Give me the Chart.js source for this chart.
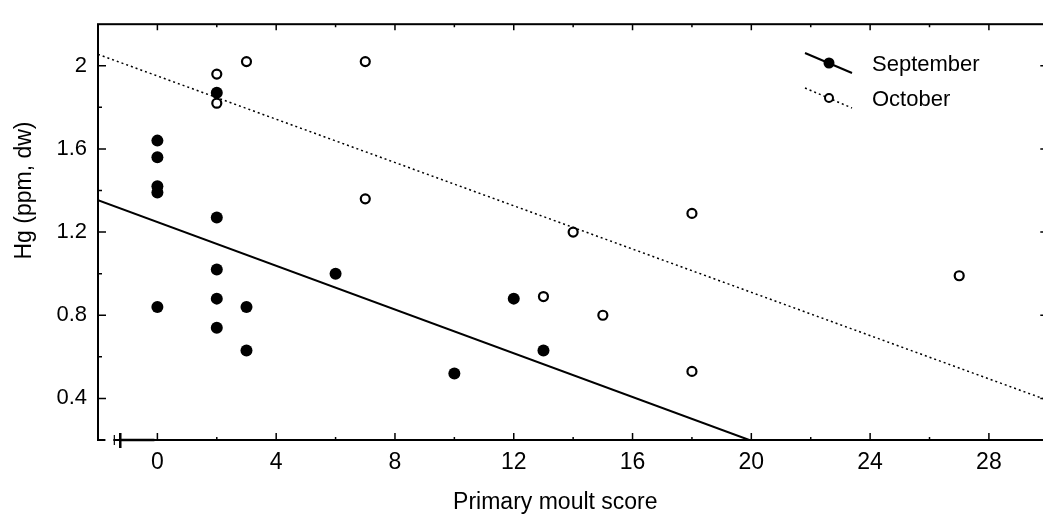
<!DOCTYPE html>
<html>
<head>
<meta charset="utf-8">
<script src="https://cdn.jsdelivr.net/npm/chart.js@4/dist/chart.umd.min.js"></script>
<style>
  html, body { margin: 0; padding: 0; background: #fff; overflow: hidden; }
  #wrap { width: 1043px; height: 517px; overflow: hidden; }
  canvas { display: block; }
</style>
</head>
<body>
<!-- the frame of the original runs a few pixels past the right edge, so the canvas is wider than the window -->
<div id="wrap"><canvas id="chart" width="1055" height="517"></canvas></div>
<script>
const septX = [0, 0, 0, 0, 0, 2, 2, 2, 2, 2, 3, 3, 6, 10, 12, 13];
const septY = [1.64, 1.56, 1.42, 1.39, 0.84, 1.87, 1.27, 1.02, 0.88, 0.74, 0.84, 0.63, 1.00, 0.52, 0.88, 0.63];
const octX = [2, 2, 3, 7, 7, 13, 14, 15, 18, 18, 27];
const octY = [1.96, 1.82, 2.02, 2.02, 1.36, 0.89, 1.20, 0.80, 1.29, 0.53, 0.99];

// fitted lines (end points)
const septFitX = [-2, 19.93];
const septFitY = [1.353, 0.2];
const octFitX = [-2, 30];
const octFitY = [2.055, 0.39];

const xTicks = [0, 4, 8, 12, 16, 20, 24, 28];
const yTicks = [0.4, 0.8, 1.2, 1.6, 2.0];
const yTickLabels = ['0.4', '0.8', '1.2', '1.6', '2'];

const xTitle = 'Primary moult score';
const yTitle = 'Hg (ppm, dw)';
const seriesNames = ['September', 'October'];

const FONT = '"Liberation Sans", Arial, Helvetica, sans-serif';

const toPoints = (xs, ys) => xs.map((x, i) => ({x: x, y: ys[i]}));

// inward ticks, frame, axis break, titles and the slanted legend
const decorations = {
  id: 'decorations',
  afterDraw(chart) {
    const ctx = chart.ctx;
    const {left, right, top, bottom} = chart.chartArea;
    const xs = chart.scales.x, ys = chart.scales.y;
    ctx.save();
    ctx.strokeStyle = '#000';
    ctx.fillStyle = '#000';
    ctx.lineWidth = 2;
    ctx.strokeRect(left, top, right - left, bottom - top);

    ctx.lineWidth = 1.5;
    ctx.beginPath();
    xTicks.forEach(v => {
      const px = xs.getPixelForValue(v);
      ctx.moveTo(px, bottom); ctx.lineTo(px, bottom - 7);
      ctx.moveTo(px, top); ctx.lineTo(px, top + 6);
      const mx = xs.getPixelForValue(v + 2);
      ctx.moveTo(mx, bottom); ctx.lineTo(mx, bottom - 3);
      ctx.moveTo(mx, top); ctx.lineTo(mx, top + 3);
    });
    yTicks.forEach(v => {
      const py = ys.getPixelForValue(v);
      ctx.moveTo(left, py); ctx.lineTo(left + 8, py);
      ctx.moveTo(right, py); ctx.lineTo(right - 8, py);
      const my = ys.getPixelForValue(v - 0.2);
      ctx.moveTo(left, my); ctx.lineTo(left + 4, my);
      ctx.moveTo(right, my); ctx.lineTo(right - 4, my);
    });
    ctx.stroke();

    // axis break near the origin
    const b1 = xs.getPixelForValue(-1.45), b2 = xs.getPixelForValue(-1.25);
    ctx.fillStyle = '#fff';
    ctx.fillRect(xs.getPixelForValue(-1.75), bottom - 2, b1 - xs.getPixelForValue(-1.75) - 1, 4);
    ctx.strokeStyle = '#000';
    ctx.lineWidth = 1.2;
    ctx.beginPath();
    ctx.moveTo(b1, bottom - 5); ctx.lineTo(b1, bottom + 5);
    ctx.stroke();
    ctx.lineWidth = 2.5;
    ctx.beginPath();
    ctx.moveTo(b2, bottom - 7); ctx.lineTo(b2, bottom + 8);
    ctx.moveTo(b2, bottom); ctx.lineTo(xs.getPixelForValue(-0.1), bottom);
    ctx.stroke();

    // axis titles
    ctx.fillStyle = '#000';
    ctx.font = '23px ' + FONT;
    ctx.textAlign = 'center';
    ctx.textBaseline = 'alphabetic';
    ctx.fillText(xTitle, xs.getPixelForValue(13.4), 509);
    ctx.save();
    ctx.translate(31, ys.getPixelForValue(1.4));
    ctx.rotate(-Math.PI / 2);
    ctx.fillText(yTitle, 0, 0);
    ctx.restore();

    // legend
    const rows = [
      {y: 63, dash: [], width: 2, filled: true},
      {y: 98, dash: [2, 3], width: 1.5, filled: false}
    ];
    rows.forEach((r, i) => {
      ctx.strokeStyle = '#000';
      ctx.lineWidth = r.width;
      ctx.setLineDash(r.dash);
      ctx.beginPath();
      ctx.moveTo(805, r.y - 10); ctx.lineTo(852, r.y + 10);
      ctx.stroke();
      ctx.setLineDash([]);
      ctx.beginPath();
      if (r.filled) {
        ctx.arc(829, r.y, 5.5, 0, Math.PI * 2);
        ctx.fillStyle = '#000';
        ctx.fill();
      } else {
        ctx.arc(829, r.y, 4, 0, Math.PI * 2);
        ctx.fillStyle = '#fff';
        ctx.fill();
        ctx.lineWidth = 2;
        ctx.stroke();
      }
      ctx.fillStyle = '#000';
      ctx.font = '22px ' + FONT;
      ctx.textAlign = 'left';
      ctx.textBaseline = 'alphabetic';
      ctx.fillText(seriesNames[i], 872, r.y + 8);
    });
    ctx.restore();
  }
};

new Chart(document.getElementById('chart'), {
  type: 'scatter',
  data: {
    datasets: [
      {
        label: seriesNames[0] + ' fit',
        data: toPoints(septFitX, septFitY),
        showLine: true,
        borderColor: '#000',
        borderWidth: 2,
        pointRadius: 0,
        order: 3
      },
      {
        label: seriesNames[1] + ' fit',
        data: toPoints(octFitX, octFitY),
        showLine: true,
        borderColor: '#000',
        borderWidth: 1.5,
        borderDash: [2, 3],
        pointRadius: 0,
        order: 2
      },
      {
        label: seriesNames[0],
        data: toPoints(septX, septY),
        pointRadius: 6,
        pointBackgroundColor: '#000',
        pointBorderColor: '#000',
        pointBorderWidth: 0,
        order: 1
      },
      {
        label: seriesNames[1],
        data: toPoints(octX, octY),
        pointRadius: 4.5,
        pointBackgroundColor: '#fff',
        pointBorderColor: '#000',
        pointBorderWidth: 2.2,
        order: 0
      }
    ]
  },
  options: {
    responsive: false,
    animation: false,
    devicePixelRatio: 1,
    layout: {padding: {top: 12, right: 0, left: 0, bottom: 0}},
    plugins: {legend: {display: false}, tooltip: {enabled: false}},
    scales: {
      x: {
        type: 'linear',
        min: -2,
        max: 30,
        afterBuildTicks: scale => { scale.ticks = xTicks.map(v => ({value: v})); },
        afterFit: scale => {
          scale.height = 77;
          scale.paddingLeft = 0;
          scale.paddingRight = 0;
        },
        grid: {display: false, drawTicks: false},
        border: {display: false},
        ticks: {color: '#000', padding: 9, font: {family: FONT, size: 23}, maxRotation: 0}
      },
      y: {
        type: 'linear',
        min: 0.2,
        max: 2.2,
        afterBuildTicks: scale => { scale.ticks = yTicks.map(v => ({value: v})); },
        afterFit: scale => { scale.width = 98; },
        grid: {display: false, drawTicks: false},
        border: {display: false},
        ticks: {
          color: '#000',
          padding: 11,
          font: {family: FONT, size: 22},
          callback: (value, index) => yTickLabels[index]
        }
      }
    }
  },
  plugins: [decorations]
});
</script>
</body>
</html>
